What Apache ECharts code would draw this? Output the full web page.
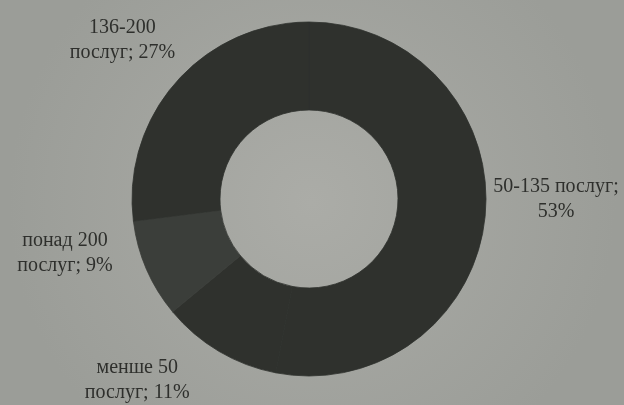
<!DOCTYPE html>
<html>
<head>
<meta charset="utf-8">
<script src="https://cdn.jsdelivr.net/npm/echarts@6/dist/echarts.min.js"></script>
<style>
  html, body { margin: 0; padding: 0; }
  #chart { width: 624px; height: 405px; }
</style>
</head>
<body>
<div id="chart"></div>
<script>
// Share of respondents by number of services (clockwise from 12 o'clock)
const categories = ['50-135 послуг', 'менше 50 послуг', 'понад 200 послуг', '136-200 послуг'];
const labelLines = [['50-135 послуг;', '53%'], ['менше 50', 'послуг; 11%'], ['понад 200', 'послуг; 9%'], ['136-200', 'послуг; 27%']];
const shares = [53, 11, 9, 27];

const sliceColors = ['#2f312d', '#2f312d', '#3b3e3a', '#2f312d'];
const CX = 309, CY = 199, R_IN = 89, R_OUT = 177;
// label placement: turn from the slice's mid-angle (deg) and distance from centre
const labelTurn = [-5.4, 12.8, 10.9, -1];
const labelDist = [247, 250, 250, 245];

const total = shares.reduce((a, b) => a + b, 0);
const midAngles = [];
let acc = 0;
shares.forEach(v => { midAngles.push((acc + v / 2) / total * 360); acc += v; });

const chart = echarts.init(document.getElementById('chart'));
chart.setOption({
  backgroundColor: {
    type: 'radial', x: 0.5, y: 0.5, r: 0.75,
    colorStops: [{ offset: 0, color: '#abaca7' }, { offset: 1, color: '#9b9d98' }]
  },
  series: [{
    type: 'pie',
    center: [CX, CY],
    radius: [R_IN, R_OUT],
    startAngle: 90,
    clockwise: true,
    silent: true,
    avoidLabelOverlap: false,
    label: {
      show: true,
      position: 'outside',
      overflow: 'none',
      fontFamily: 'Liberation Serif',
      fontSize: 20,
      lineHeight: 25,
      color: '#2e2f2c',
      align: 'center',
      formatter: p => labelLines[p.dataIndex].join('\n')
    },
    labelLine: { show: false },
    labelLayout: p => {
      const i = p.dataIndex;
      const a = (midAngles[i] + labelTurn[i]) * Math.PI / 180;
      return {
        x: CX + labelDist[i] * Math.sin(a),
        y: CY - labelDist[i] * Math.cos(a),
        align: 'center',
        verticalAlign: 'middle'
      };
    },
    data: categories.map((c, i) => ({
      name: c, value: shares[i],
      itemStyle: { color: sliceColors[i], borderColor: sliceColors[i], borderWidth: 0.8 }
    }))
  }]
});
</script>
</body>
</html>
